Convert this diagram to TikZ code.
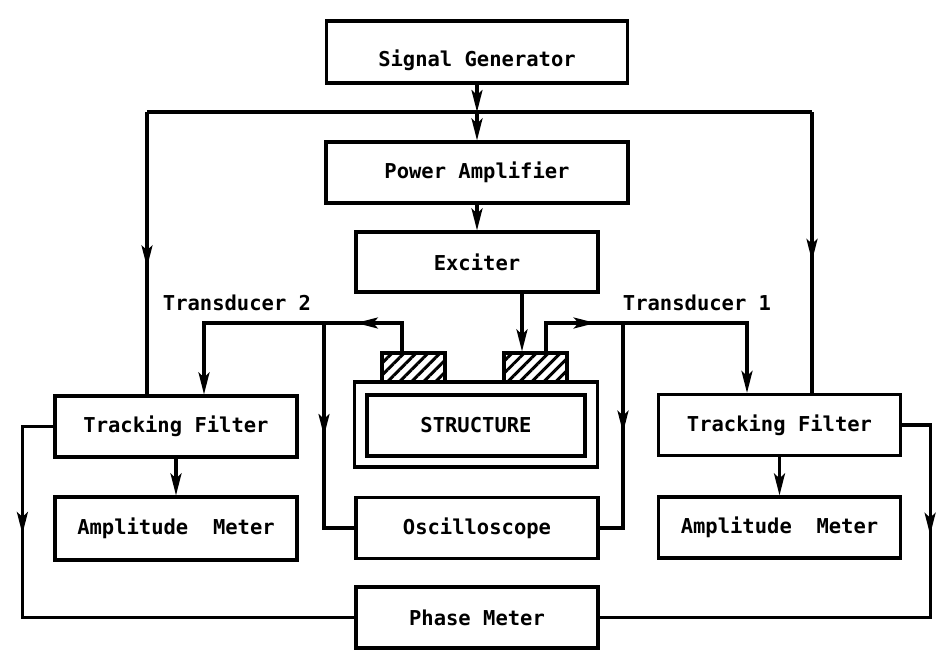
\documentclass[tikz,border=0pt]{standalone}
\usepackage{fontspec}
\setmonofont{DejaVu Sans Mono}
\usetikzlibrary{calc, positioning}
\usetikzlibrary{decorations.markings, arrows.meta, patterns.meta}
\tikzset{
  font=\ttfamily\bfseries\fontsize{20.5}{24}\selectfont,
  % Set arrowhead
  >={Stealth[length=22pt, width=11pt, inset=5pt]},
  % Arrow with arrowhead along the line
  ->-/.style={decoration={
      markings, mark=at position #1 with
      {\arrow{>}}},postaction={decorate}},
  % Signal lines
  wire/.style={line width=3.2pt},
  % Instrument box
  block/.style={draw, shape=rectangle, minimum width=242pt, minimum
    height=61pt, inner sep=0pt},
  % Transducer pad
  pad/.style={draw, minimum width=63pt, minimum height=29pt, inner
    sep=0pt, pattern={Lines[angle=45, distance=8.5pt, line width=3pt]}},
}

\begin{document}
\begin{tikzpicture}[x=1pt, y=-1pt, wire]
    \useasboundingbox (0,0) rectangle (942,661);

    \node[block, minimum width=301pt, minimum height=62pt] (sg) at (477,52)
      {\raisebox{-15pt}[0pt][0pt]{Signal Generator}};
    \node[block, minimum width=302pt] (pa) at (477,172.5) {Power Amplifier};
    \node[block, minimum height=60pt] (ex) at (477,262) {Exciter};

    \node[block, minimum width=243pt, minimum height=85pt] (st) at (476,424.5) {};
    \node[block, minimum width=218pt] (core) at (476,425.5) {STRUCTURE};
    \node[pad] (td2) at (413.5,367.5) {};
    \node[pad] (td1) at (535.5,367.5) {};

    \node[block] (tf2) at (176,426.5) {Tracking Filter};
    \node[block, minimum height=63pt] (am2) at (176,528.5) {Amplitude\ \ Meter};
    \node[block] (os) at (477,528) {Oscilloscope};
    \node[block] (tf1) at (779.5,425) {Tracking Filter};
    \node[block] (am1) at (779.5,527.5) {Amplitude\ \ Meter};
    \node[block] (pm) at (477,617.5) {Phase Meter};

    \node (t2lbl) at (237,303) {Transducer 2};
    \node (t1lbl) at (697,303) {Transducer 1};

    \coordinate (bus) at (477,112);
    \coordinate (busl) at (147,112);
    \coordinate (busr) at (812,112);
    \coordinate (j2) at (324,323);
    \coordinate (j1) at (623,323);

    % reference signal
    \draw[->] (sg) -- (bus);
    \draw[->] (bus) -- (pa);
    \draw (busl) -- (busr);
    \draw[->-=0.55] (busl) -- (busl |- tf2.north);
    \draw[->-=0.53] (busr) -- (busr |- tf1.north);

    % drive
    \draw[->] (pa) -- (ex);
    \draw[->] ([xshift=45pt]ex.south) -- ([xshift=45pt]ex.south |- td1.north);

    % transducer 2
    \draw[->-=0.7] ([xshift=-11.5pt]td2.north) |- (j2);
    \draw[->] (j2) -| ([xshift=28pt]tf2.north);
    \draw[->-=0.48] (j2) |- (os.west);

    % transducer 1
    \draw[->-=0.74] ([xshift=10.5pt]td1.north) |- (j1);
    \draw[->] (j1) -| ([xshift=-32.5pt]tf1.north);
    \draw[->-=0.48] (j1) |- (os.east);

    % meters
    \draw[->] (tf2) -- (am2);
    \draw[->] (tf1) -- (am1);
    \draw[->-=0.25] (tf2.west) -- ++(-31,0) |- (pm.west);
    \draw[->-=0.25] (tf1.east) -- ++(28,0) |- (pm.east);
\end{tikzpicture}
\end{document}
